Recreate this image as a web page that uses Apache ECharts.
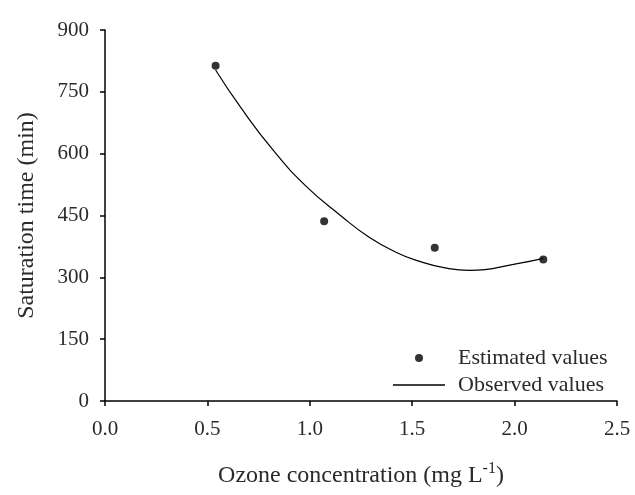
<!DOCTYPE html>
<html>
<head>
<meta charset="utf-8">
<script src="https://cdn.jsdelivr.net/npm/echarts@6/dist/echarts.min.js"></script>
<style>
  html, body { margin: 0; padding: 0; background: #fff; }
  #chart { width: 635px; height: 495px; }
</style>
</head>
<body>
<div id="chart"></div>
<script>
// measured points (ozone mg/L, saturation time min)
const ozone = [0.54, 1.07, 1.61, 2.14]
const satTime = [813, 436, 372, 343]

// fitted curve
const curveX = [0.54, 0.66, 0.82, 0.98, 1.15, 1.29, 1.42, 1.54, 1.66, 1.78, 2.02, 2.14]
const curveY = [803, 714, 609, 522, 450, 397, 361, 338, 323, 317, 334, 346]

const xTicks = [0, 0.5, 1, 1.5, 2, 2.5]
const yTicks = [0, 150, 300, 450, 600, 750, 900]

const chart = echarts.init(document.getElementById('chart'))
const serif = 'Liberation Serif'
const txt = '#2a2a2a'

const option = {
  animation: false,
  grid: { left: 105, right: 18, top: 30, bottom: 94 },
  legend: {
    orient: 'vertical',
    left: 388,
    top: 342,
    itemWidth: 52,
    itemHeight: 8,
    itemGap: 5,
    textStyle: { fontFamily: serif, fontSize: 22, color: txt, padding: [0, 0, 0, 8] },
    data: [
      { name: 'Estimated values', icon: 'circle' },
      { name: 'Observed values', icon: 'path://M0,0 L52,0 L52,1.3 L0,1.3 Z' }
    ]
  },
  xAxis: {
    type: 'value',
    min: xTicks[0],
    max: xTicks[xTicks.length - 1],
    interval: 0.5,
    name: '{b|Ozone concentration (mg L}{s|-1}{b|)}',
    nameLocation: 'middle',
    nameGap: 60,
    nameTextStyle: {
      rich: {
        b: { fontFamily: serif, fontSize: 24, color: txt },
        s: { fontFamily: serif, fontSize: 16, color: txt, padding: [0, 0, 13, 0] }
      }
    },
    axisLine: { lineStyle: { color: '#000', width: 1.5 } },
    axisTick: { length: 5, lineStyle: { color: '#000', width: 1.5 } },
    axisLabel: {
      fontFamily: serif, fontSize: 21, color: txt, margin: 18,
      formatter: v => v.toFixed(1)
    },
    splitLine: { show: false }
  },
  yAxis: {
    type: 'value',
    min: yTicks[0],
    max: yTicks[yTicks.length - 1],
    interval: 150,
    name: 'Saturation time (min)',
    nameLocation: 'middle',
    nameGap: 66,
    nameTextStyle: { fontFamily: serif, fontSize: 24, color: txt },
    axisLine: { show: true, lineStyle: { color: '#000', width: 1.5 } },
    axisTick: { show: true, length: 5, lineStyle: { color: '#000', width: 1.5 } },
    axisLabel: { fontFamily: serif, fontSize: 21, color: txt, margin: 16 },
    splitLine: { show: false }
  },
  series: [
    {
      name: 'Observed values',
      type: 'line',
      smooth: 0.5,
      symbol: 'none',
      showSymbol: false,
      lineStyle: { color: '#000', width: 1.2 },
      itemStyle: { color: '#000' },
      data: curveX.map((x, i) => [x, curveY[i]]),
      z: 2
    },
    {
      name: 'Estimated values',
      type: 'scatter',
      symbol: 'circle',
      symbolSize: 8,
      itemStyle: { color: '#000' },
      data: ozone.map((x, i) => [x, satTime[i]]),
      z: 3
    }
  ]
}

chart.setOption(option)
</script>
</body>
</html>
